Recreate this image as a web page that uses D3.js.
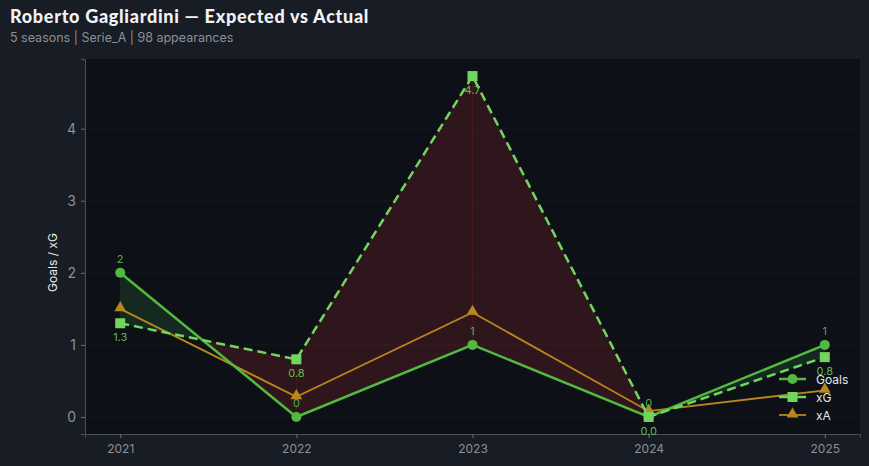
<!DOCTYPE html>
<html><head><meta charset="utf-8">
<script src="https://cdn.jsdelivr.net/npm/d3@7"></script>
<style>
html,body{margin:0;padding:0;background:#181c24;}
svg{display:block;}
</style></head><body>
<svg id="c" width="869" height="466"></svg>
<script>
const seasons = [2021, 2022, 2023, 2024, 2025];
const goals = [2, 0, 1, 0, 1];
const xg = [1.3, 0.8, 4.73, 0.0, 0.83];
const xa = [1.5, 0.28, 1.45, 0.08, 0.37];
const yTicks = [0, 1, 2, 3, 4];
const titleText = "Roberto Gagliardini — Expected vs Actual";
const subtitleText = "5 seasons | Serie_A | 98 appearances";

const W = 869, H = 466;
const m = {l: 85, r: 9, t: 59, b: 32};
const svg = d3.select("#c");
svg.append("rect").attr("width", W).attr("height", H).attr("fill", "#181c24");

const x = d3.scaleLinear().domain([2020.8, 2025.2]).range([m.l, W - m.r]);
const yMax = d3.max(xg.concat(goals, xa));
const y = d3.scaleLinear().domain([-0.05 * yMax, yMax * 1.05]).range([H - m.b, m.t]);

svg.append("rect").attr("x", m.l).attr("y", m.t).attr("width", W - m.r - m.l).attr("height", H - m.b - m.t).attr("fill", "#0d1017");

// grid
svg.append("g").selectAll("line").data(yTicks).join("line")
  .attr("x1", m.l).attr("x2", W - m.r)
  .attr("y1", d => y(d)).attr("y2", d => y(d))
  .attr("stroke", "#ffffff").attr("stroke-opacity", 0.03);

// fill between goals and xG with interpolation
function segs() {
  const polys = [];
  for (let i = 0; i < seasons.length - 1; i++) {
    const d0 = goals[i] - xg[i], d1 = goals[i + 1] - xg[i + 1];
    const x0 = seasons[i], x1 = seasons[i + 1];
    if (d0 * d1 < 0) {
      const t = d0 / (d0 - d1);
      const xc = x0 + t * (x1 - x0);
      const yc = goals[i] + t * (goals[i + 1] - goals[i]);
      polys.push({pos: d0 > 0, pts: [[x0, goals[i]], [xc, yc], [x0, xg[i]]]});
      polys.push({pos: d1 > 0, pts: [[xc, yc], [x1, goals[i + 1]], [x1, xg[i + 1]]]});
    } else {
      polys.push({pos: (d0 + d1) > 0, pts: [[x0, goals[i]], [x1, goals[i + 1]], [x1, xg[i + 1]], [x0, xg[i]]]});
    }
  }
  return polys;
}
svg.append("g").selectAll("path").data(segs()).join("path")
  .attr("d", p => "M" + p.pts.map(q => [x(q[0]), y(q[1])].join(",")).join("L") + "Z")
  .attr("fill", p => p.pos ? "#4caf50" : "#e53935")
  .attr("fill-opacity", 0.16)
  .attr("stroke", p => p.pos ? "#4caf50" : "#e53935")
  .attr("stroke-opacity", 0.12).attr("stroke-width", 0.6);

// axes
const gy = svg.append("g").attr("transform", `translate(${m.l},0)`)
  .call(d3.axisLeft(y).tickValues(yTicks).tickFormat(d3.format("d")).tickSize(4).tickPadding(5));
const gx = svg.append("g").attr("transform", `translate(0,${H - m.b})`)
  .call(d3.axisBottom(x).tickValues(seasons).tickFormat(d3.format("d")).tickSize(4).tickPadding(6));
[gy, gx].forEach(g => {
  g.select(".domain").attr("stroke", "#4a4f58").attr("stroke-width", 1);
  g.selectAll(".tick line").attr("stroke", "#6b7079");
  g.selectAll(".tick text").attr("fill", "#8b9099").attr("font-family", "Inter, sans-serif");
});
gy.selectAll(".tick text").attr("font-size", 14);
gx.selectAll(".tick text").attr("font-size", 12);

svg.append("text").attr("transform", `translate(57,${(m.t + H - m.b) / 2 + 16}) rotate(-90)`)
  .attr("text-anchor", "middle").attr("fill", "#e6e8eb")
  .attr("font-family", "Inter, sans-serif").attr("font-size", 12).text("Goals / xG");

const line = d3.line().x((d, i) => x(seasons[i])).y(d => y(d));
const cGoals = "#52ba40", cXg = "#72d65e", cXa = "#b8861d";
const tri = d3.symbol().type(d3.symbolTriangle).size(60);

// xA
svg.append("path").attr("d", line(xa)).attr("fill", "none").attr("stroke", cXa).attr("stroke-width", 1.8);
svg.append("g").selectAll("path").data(xa).join("path")
  .attr("d", tri).attr("transform", (d, i) => `translate(${x(seasons[i])},${y(d) - 1})`).attr("fill", cXa);

// Goals
svg.append("path").attr("d", line(goals)).attr("fill", "none").attr("stroke", cGoals).attr("stroke-width", 2.5);
svg.append("g").selectAll("circle").data(goals).join("circle")
  .attr("cx", (d, i) => x(seasons[i])).attr("cy", d => y(d)).attr("r", 5).attr("fill", cGoals);

// xG
svg.append("path").attr("d", line(xg)).attr("fill", "none").attr("stroke", cXg).attr("stroke-width", 2.5).attr("stroke-dasharray", "9,5");
svg.append("g").selectAll("rect").data(xg).join("rect")
  .attr("x", (d, i) => x(seasons[i]) - 5).attr("y", d => y(d) - 5).attr("width", 10).attr("height", 10).attr("fill", cXg);

// labels
svg.append("g").selectAll("text").data(goals).join("text")
  .attr("x", (d, i) => x(seasons[i])).attr("y", d => y(d) - 10)
  .attr("text-anchor", "middle").attr("fill", "#4caf50").attr("font-family", "Inter, sans-serif").attr("font-size", 11)
  .text(d => d3.format("d")(d));
svg.append("g").selectAll("text").data(xg).join("text")
  .attr("x", (d, i) => x(seasons[i])).attr("y", d => y(d) + 18)
  .attr("text-anchor", "middle").attr("fill", "#6fcf5c").attr("fill-opacity", 0.9).attr("font-family", "Inter, sans-serif").attr("font-size", 11)
  .text(d => d3.format(".1f")(d));

// legend
const leg = [{n: "Goals", c: cGoals, k: "c"}, {n: "xG", c: cXg, k: "s"}, {n: "xA", c: cXa, k: "t"}];
const lg = svg.append("g").attr("transform", "translate(779,379)");
leg.forEach((e, i) => {
  const g = lg.append("g").attr("transform", `translate(0,${i * 18})`);
  g.append("line").attr("x1", 0).attr("x2", 27).attr("stroke", e.c).attr("stroke-width", e.k === "t" ? 1.8 : 2.5);
  if (e.k === "c") g.append("circle").attr("cx", 13.5).attr("r", 5).attr("fill", e.c);
  if (e.k === "s") g.append("rect").attr("x", 8.5).attr("y", -5).attr("width", 10).attr("height", 10).attr("fill", e.c);
  if (e.k === "t") g.append("path").attr("d", tri).attr("transform", "translate(13.5,-1)").attr("fill", e.c);
  g.append("text").attr("x", 37).attr("y", 4.5).attr("fill", "#e6e8eb").attr("font-family", "Inter, sans-serif").attr("font-size", 12).text(e.n);
});

// title
svg.append("text").attr("x", 10).attr("y", 23).attr("fill", "#f0f2f5")
  .attr("font-family", "Lato, sans-serif").attr("font-weight", 900).attr("font-size", 18)
  .attr("letter-spacing", 0.7).text(titleText);
svg.append("text").attr("x", 10).attr("y", 42).attr("fill", "#8b9099")
  .attr("font-family", "Inter, sans-serif").attr("font-size", 12.5).text(subtitleText);
</script>
</body></html>
